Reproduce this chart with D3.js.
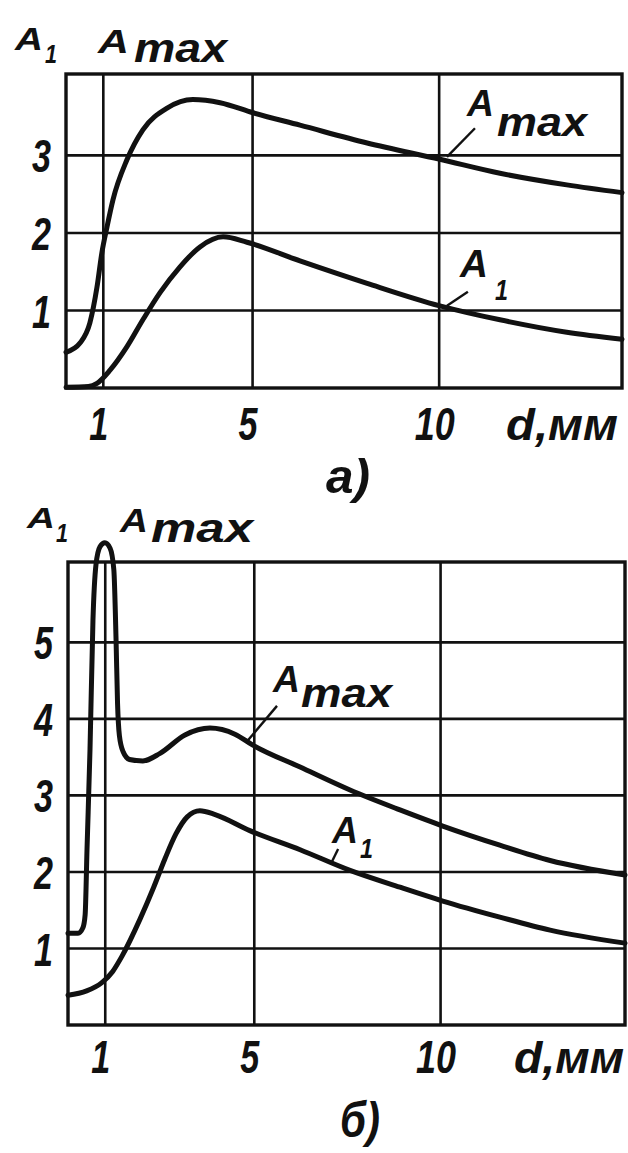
<!DOCTYPE html>
<html>
<head>
<meta charset="utf-8">
<script src="https://cdn.jsdelivr.net/npm/d3@7"></script>
<style>
  html, body { margin: 0; padding: 0; background: #fff; }
  svg { display: block; }
  text { font-family: "Liberation Sans", "DejaVu Sans", Arial, sans-serif; font-style: italic; font-weight: bold; fill: #111; }
</style>
</head>
<body>
<svg id="chart" width="628" height="1153"></svg>
<script>
// ---- panel а) : amplitudes vs. diameter d, mm ----
const dMaxA  = [0, 0.375, 0.64, 0.83, 0.96, 1.10, 1.26, 1.63, 2.06, 2.71, 3.40, 4.13, 5.01, 6.27, 8.07, 10.02, 11.63, 13.42, 14.9];
const amaxA  = [0.46, 0.58, 0.84, 1.30, 1.74, 2.08, 2.43, 2.94, 3.33, 3.61, 3.72, 3.68, 3.55, 3.39, 3.16, 2.95, 2.77, 2.62, 2.52];
const dA1A   = [0, 0.6, 0.83, 1.18, 1.63, 2.06, 2.52, 3.05, 3.59, 4.21, 4.85, 6.27, 8.07, 10.02, 11.63, 13.42, 14.9];
const a1A    = [0.01, 0.02, 0.06, 0.23, 0.53, 0.88, 1.23, 1.56, 1.82, 1.95, 1.88, 1.64, 1.35, 1.06, 0.88, 0.72, 0.63];

// ---- panel б) ----
const dMaxB  = [0, 0.27, 0.40, 0.46, 0.51, 0.59, 0.67, 0.75, 0.86, 0.99, 1.13, 1.23, 1.29, 1.33, 1.38, 1.48, 1.65, 2.01, 2.47, 3.14, 3.81, 4.48, 4.95, 6.23, 7.57, 8.91, 10.06, 11.59, 12.94, 14.95];
const amaxB  = [1.20, 1.20, 1.27, 1.44, 2.29, 3.59, 5.29, 6.01, 6.25, 6.30, 6.23, 5.95, 5.03, 4.20, 3.78, 3.57, 3.47, 3.45, 3.55, 3.79, 3.88, 3.80, 3.66, 3.37, 3.07, 2.81, 2.60, 2.35, 2.15, 1.96];
const dA1B   = [0, 0.5, 0.9, 1.2, 1.45, 1.93, 2.3, 2.6, 2.9, 3.2, 3.54, 3.95, 4.88, 6.23, 7.57, 8.91, 10.06, 11.59, 12.94, 14.95];
const a1B    = [0.39, 0.445, 0.55, 0.70, 0.90, 1.38, 1.80, 2.17, 2.50, 2.72, 2.80, 2.75, 2.54, 2.29, 2.02, 1.80, 1.62, 1.41, 1.24, 1.07];

// ---- ticks ----
const xTicks  = [1, 5, 10];
const yTicksA = [1, 2, 3];
const yTicksB = [1, 2, 3, 4, 5];

const svg = d3.select("#chart");
const zip = (xs, ys) => xs.map((v, i) => [v, ys[i]]);

function panel(cfg) {
  const x = d3.scaleLinear().domain(cfg.xDomain).range(cfg.xRange);
  const y = d3.scaleLinear().domain(cfg.yDomain).range(cfg.yRange);
  const g = svg.append("g");

  // grid
  g.selectAll(".gx").data(xTicks).join("line")
    .attr("x1", d => x(d)).attr("x2", d => x(d))
    .attr("y1", cfg.yRange[0]).attr("y2", cfg.yRange[1])
    .attr("stroke", "#111").attr("stroke-width", 2.6);
  g.selectAll(".gy").data(cfg.yTicks).join("line")
    .attr("x1", cfg.xRange[0]).attr("x2", cfg.xRange[1])
    .attr("y1", d => y(d)).attr("y2", d => y(d))
    .attr("stroke", "#111").attr("stroke-width", 2.6);

  // frame
  g.append("rect")
    .attr("x", cfg.xRange[0]).attr("y", cfg.yRange[1])
    .attr("width", cfg.xRange[1] - cfg.xRange[0])
    .attr("height", cfg.yRange[0] - cfg.yRange[1])
    .attr("fill", "none").attr("stroke", "#111").attr("stroke-width", 3.4);

  // axes (labels only)
  const ax = g.append("g").attr("transform", `translate(0,${cfg.yRange[0]})`)
    .call(d3.axisBottom(x).tickValues(xTicks).tickSize(0).tickFormat(d3.format("d")));
  ax.select(".domain").remove();
  ax.attr("font-family", null).attr("font-size", null);
  ax.selectAll("text")
    .attr("font-size", 46)
    .attr("y", cfg.xLabelY).attr("dy", 0).attr("dx", -5)
    .attr("textLength", d => d >= 10 ? 40 : 19)
    .attr("lengthAdjust", "spacingAndGlyphs");

  const ay = g.append("g").attr("transform", `translate(${cfg.xRange[0]},0)`)
    .call(d3.axisLeft(y).tickValues(cfg.yTicks).tickSize(0).tickFormat(d3.format("d")));
  ay.select(".domain").remove();
  ay.attr("font-family", null).attr("font-size", null);
  ay.selectAll("text")
    .attr("font-size", 46).attr("x", -15).attr("dy", "0.36em")
    .attr("textLength", 19).attr("lengthAdjust", "spacingAndGlyphs");

  // curves
  const line = d3.line().x(d => x(d[0])).y(d => y(d[1])).curve(d3.curveMonotoneX);
  cfg.series.forEach(s => {
    g.append("path").datum(s)
      .attr("d", line)
      .attr("fill", "none").attr("stroke", "#111")
      .attr("stroke-width", 5).attr("stroke-linejoin", "round").attr("stroke-linecap", "round");
  });

  // leader lines for curve labels
  cfg.leaders.forEach(l => {
    g.append("line")
      .attr("x1", x(l[0])).attr("y1", y(l[1]))
      .attr("x2", x(l[2])).attr("y2", y(l[3]))
      .attr("stroke", "#111").attr("stroke-width", 2.4);
  });
  return { x, y, g };
}

function word(parts) {
  parts.forEach(p => {
    svg.append("text")
      .attr("x", p.x).attr("y", p.y)
      .attr("font-size", p.size)
      .attr("textLength", p.w).attr("lengthAdjust", "spacingAndGlyphs")
      .text(p.t);
  });
}

// panel а)
panel({
  xDomain: [0, 14.9], xRange: [66, 622],
  yDomain: [0, 4.05], yRange: [388, 74],
  yTicks: yTicksA, xLabelY: 52,
  series: [zip(dMaxA, amaxA), zip(dA1A, a1A)],
  leaders: [[10.96, 3.35, 10.21, 2.98], [10.77, 1.24, 10.21, 1.06]]
});

// panel б)
panel({
  xDomain: [0, 14.95], xRange: [68, 625],
  yDomain: [0, 6.05], yRange: [1025, 562],
  yTicks: yTicksB, xLabelY: 48,
  series: [zip(dMaxB, amaxB), zip(dA1B, a1B)],
  leaders: [[5.61, 4.17, 4.83, 3.72], [7.25, 2.30, 7.05, 2.10]]
});

// axis titles and curve labels
word([
  { t: "A", x: 15, y: 50, size: 31, w: 28 },
  { t: "1", x: 45, y: 63, size: 26, w: 12 },
  { t: "A", x: 98, y: 53, size: 34, w: 31 },
  { t: "max", x: 134, y: 62, size: 40, w: 93 },
  { t: "d,мм", x: 506, y: 440, size: 44, w: 112 },
  { t: "а)", x: 326, y: 493, size: 48, w: 44 },

  { t: "A", x: 27, y: 528, size: 30, w: 28 },
  { t: "1", x: 56, y: 542, size: 26, w: 12 },
  { t: "A", x: 120, y: 532, size: 33, w: 28 },
  { t: "max", x: 151, y: 542, size: 40, w: 102 },
  { t: "d,мм", x: 514, y: 1073, size: 44, w: 110 },
  { t: "б)", x: 340, y: 1137, size: 50, w: 40 },

  { t: "A", x: 467, y: 116, size: 36, w: 27 },
  { t: "max", x: 497, y: 136, size: 40, w: 90 },
  { t: "A", x: 460, y: 277, size: 38, w: 28 },
  { t: "1", x: 495, y: 300, size: 30, w: 13 },
  { t: "A", x: 273, y: 692, size: 36, w: 27 },
  { t: "max", x: 301, y: 707, size: 40, w: 91 },
  { t: "A", x: 332, y: 843, size: 36, w: 26 },
  { t: "1", x: 360, y: 858, size: 28, w: 13 }
]);
</script>
</body>
</html>
